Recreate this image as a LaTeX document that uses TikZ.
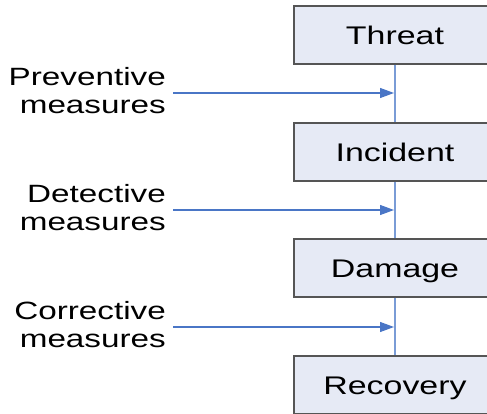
\documentclass[tikz,border=0pt]{standalone}
\usepackage{fontspec}
\setmainfont{Liberation Sans}
\newfontfamily\widefont[FakeStretch=1.33]{Liberation Sans}
\usetikzlibrary{arrows.meta}
\definecolor{boxfill}{HTML}{E6EAF5}
\definecolor{boxline}{HTML}{555555}
\definecolor{arrowblue}{HTML}{4A76C6}
\definecolor{linkblue}{HTML}{7A9CD6}
\begin{document}
\begin{tikzpicture}[x=1pt,y=-1pt,
  stage/.style={draw=boxline, line width=1.2pt, fill=boxfill,
    minimum width=202pt, minimum height=58pt, inner sep=0pt,
    text height=18.4pt, text depth=0pt,
    font=\widefont\fontsize{25.5}{28}\selectfont},
  measure/.style={anchor=north east, inner sep=0pt, align=right,
    font=\widefont\fontsize{25}{28}\selectfont},
  link/.style={draw=linkblue, line width=1.2pt},
  feed/.style={draw=arrowblue, line width=1.2pt,
    -{Triangle[length=14pt,width=10pt]}}]
\useasboundingbox (0,0) rectangle (487,414);
\clip (0,0) rectangle (487,414);

% stages of an incident
\node[stage] (threat)   at (395,35)  {Threat};
\node[stage] (incident) at (395,152) {Incident};
\node[stage] (damage)   at (395,268) {Damage};
\node[stage] (recovery) at (395,385) {Recovery};

% chain between the stages
\draw[link] (threat) -- (incident);
\draw[link] (incident) -- (damage);
\draw[link] (damage) -- (recovery);

% measures acting on each transition
\node[measure] (prev) at (166,67)  {Preventive\\measures};
\node[measure] (dete) at (166,184) {Detective\\measures};
\node[measure] (corr) at (166,301) {Corrective\\measures};

\coordinate (prevs) at (173,93);
\coordinate (prevt) at (394,93);
\coordinate (detes) at (173,210);
\coordinate (detet) at (394,210);
\coordinate (corrs) at (173,327);
\coordinate (corrt) at (394,327);

\draw[feed] (prevs) -- (prevt);
\draw[feed] (detes) -- (detet);
\draw[feed] (corrs) -- (corrt);
\end{tikzpicture}
\end{document}
